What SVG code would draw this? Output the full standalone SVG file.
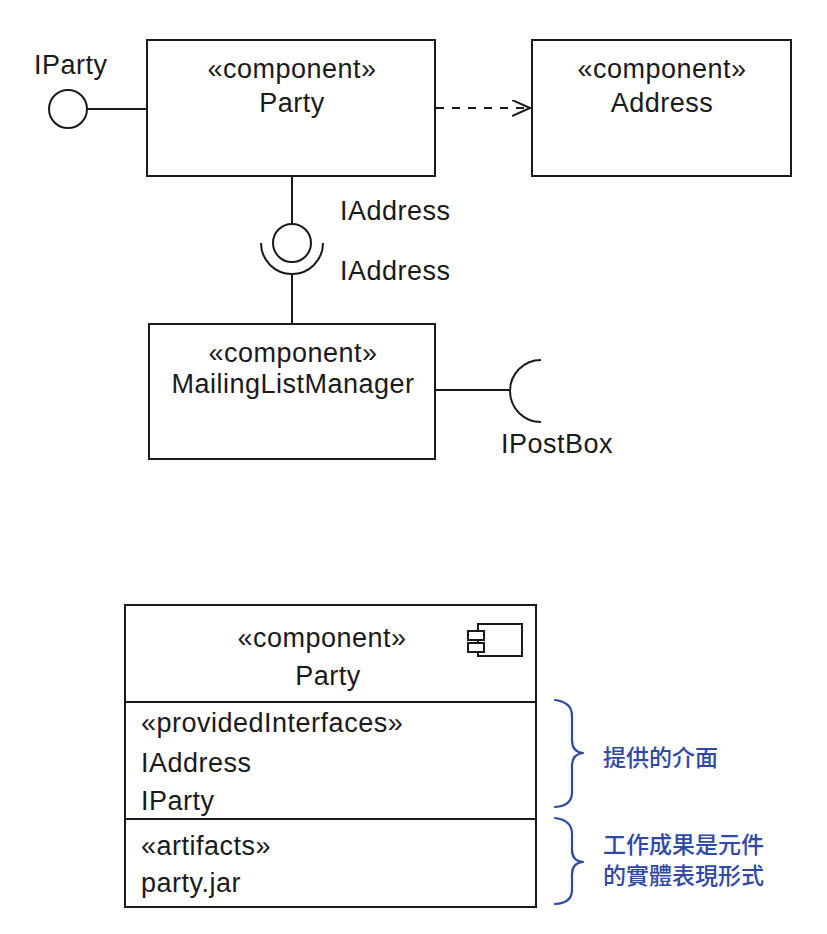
<svg xmlns="http://www.w3.org/2000/svg" width="827" height="934" viewBox="0 0 827 934">
<style>
.box{fill:#fff;stroke:#1a1a1a;stroke-width:2}
.ln{fill:none;stroke:#1a1a1a;stroke-width:2}
.pin{fill:#fff;stroke:#1a1a1a;stroke-width:2}
.t{font-family:"Liberation Sans",Arial,sans-serif;font-size:27px;fill:#1a1a1a;letter-spacing:0.5px}
.c{text-anchor:middle}
.br{fill:none;stroke:#2b4aa6;stroke-width:2.2;stroke-linecap:round;stroke-linejoin:round}
.zh{font-family:"Noto Sans CJK TC","Noto Sans CJK SC",sans-serif;font-size:23px;font-weight:500;fill:#3048a8}
</style>
<defs>
<marker id="open" markerWidth="20" markerHeight="20" refX="18" refY="8" orient="auto" markerUnits="userSpaceOnUse">
<path d="M0,0 L18,8 L0,16" fill="none" stroke="#1a1a1a" stroke-width="2"/>
</marker>
</defs>
<rect width="827" height="934" fill="#fff"/>

<g id="connectors">
<line class="ln" x1="87" y1="109" x2="147" y2="109"/>
<line class="ln" x1="436" y1="108" x2="530" y2="108" stroke-dasharray="8,8" marker-end="url(#open)"/>
<line class="ln" x1="292" y1="176" x2="292" y2="224"/>
<line class="ln" x1="292" y1="274" x2="292" y2="324"/>
<line class="ln" x1="435" y1="390" x2="509" y2="390"/>
</g>

<g id="iparty">
<circle class="ln" cx="68" cy="109" r="19"/>
<text class="t" x="34" y="74">IParty</text>
</g>

<g id="party">
<rect class="box" x="147" y="40" width="288" height="136"/>
<text class="t c" x="292" y="78">«component»</text>
<text class="t c" x="292" y="112">Party</text>
</g>

<g id="address">
<rect class="box" x="532" y="40" width="259" height="136"/>
<text class="t c" x="662" y="78">«component»</text>
<text class="t c" x="662" y="112">Address</text>
</g>

<g id="iaddress">
<circle class="ln" cx="292" cy="243" r="19"/>
<path class="ln" d="M261,243 A31,31 0 0 0 323,243"/>
<text class="t" x="340" y="220">IAddress</text>
<text class="t" x="340" y="280">IAddress</text>
</g>

<g id="mailinglistmanager">
<rect class="box" x="149" y="324" width="286" height="135"/>
<text class="t c" x="293" y="362">«component»</text>
<text class="t c" x="293" y="393">MailingListManager</text>
</g>

<g id="ipostbox">
<path class="ln" d="M541,360 A31,31 0 0 0 541,422"/>
<text class="t" x="501" y="453">IPostBox</text>
</g>

<g id="party-detail">
<rect class="box" x="125" y="605" width="411" height="302"/>
<line class="ln" x1="125" y1="702" x2="536" y2="702"/>
<line class="ln" x1="125" y1="819" x2="536" y2="819"/>
<text class="t c" x="322" y="647">«component»</text>
<text class="t c" x="328" y="685">Party</text>
<rect class="ln" x="478" y="624" width="44" height="32"/>
<rect class="pin" x="468" y="631" width="16" height="9"/>
<rect class="pin" x="468" y="643" width="16" height="9"/>
<text class="t" x="141" y="732">«providedInterfaces»</text>
<text class="t" x="141" y="772">IAddress</text>
<text class="t" x="141" y="810">IParty</text>
<text class="t" x="141" y="855">«artifacts»</text>
<text class="t" x="141" y="892">party.jar</text>
</g>

<g id="note-provided">
<path class="br" d="M555,700 Q572,702 572,716 L572,740 Q572,752 583,753 Q572,754 572,766 L572,792 Q572,806 555,807"/>
<text class="zh" x="603" y="766">提供的介面</text>
</g>

<g id="note-artifacts">
<path class="br" d="M555,818 Q572,820 572,834 L572,850 Q572,861 583,862 Q572,863 572,874 L572,890 Q572,903 555,904"/>
<text class="zh" x="603" y="853">工作成果是元件</text>
<text class="zh" x="603" y="884">的實體表現形式</text>
</g>
</svg>
